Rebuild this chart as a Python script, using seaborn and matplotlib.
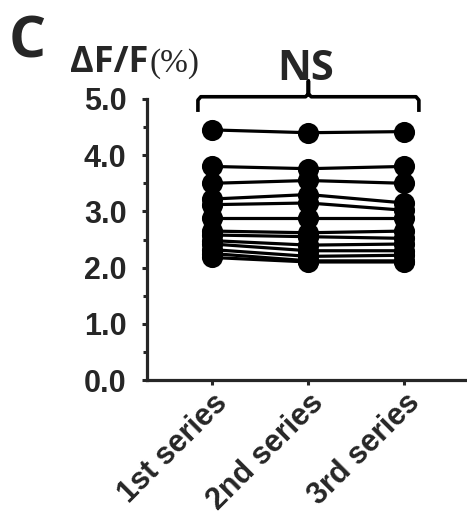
import numpy as np
import pandas as pd
import matplotlib
matplotlib.use("Agg")
import matplotlib.pyplot as plt
import seaborn as sns

categories = ["1st series", "2nd series", "3rd series"]
s01 = [4.45, 4.40, 4.42]
s02 = [3.80, 3.76, 3.80]
s03 = [3.50, 3.55, 3.50]
s04 = [3.22, 3.30, 3.15]
s05 = [3.12, 3.15, 3.02]
s06 = [2.88, 2.88, 2.88]
s07 = [2.65, 2.62, 2.65]
s08 = [2.58, 2.55, 2.52]
s09 = [2.48, 2.40, 2.42]
s10 = [2.42, 2.30, 2.30]
s11 = [2.32, 2.20, 2.22]
s12 = [2.25, 2.12, 2.12]
s13 = [2.18, 2.10, 2.10]
yticks = [0.0, 1.0, 2.0, 3.0, 4.0, 5.0]
ytick_labels = ["0.0", "1.0", "2.0", "3.0", "4.0", "5.0"]

series = [s01, s02, s03, s04, s05, s06, s07, s08, s09, s10, s11, s12, s13]
rows = []
for i, s in enumerate(series):
    for c, v in zip(categories, s):
        rows.append({"subject": i, "series": c, "value": v})
df = pd.DataFrame(rows)

sns.set_style("ticks")
plt.rcParams['font.family'] = ['Liberation Sans', 'DejaVu Sans']

fig = plt.figure(figsize=(4.67, 5.2), dpi=100)
ax = fig.add_axes([147/467, 1-380/520, (465-147)/467, (380-99)/520])

sns.lineplot(data=df, x="series", y="value", units="subject", estimator=None,
             marker="o", markersize=14, color="black", linewidth=2.3,
             markeredgecolor="black", markeredgewidth=1.2, ax=ax, legend=False, sort=False)

ax.set_xlim(-0.68, 2.63)
ax.set_ylim(0, 5.0)
ax.set_yticks(yticks)
ax.set_yticklabels(ytick_labels, fontsize=22, fontweight="bold")
ax.set_yticks([0.5, 1.5, 2.5, 3.5, 4.5], minor=True)
ax.set_xticks([0, 1, 2])
ax.set_xticklabels(categories, rotation=45, ha="right", rotation_mode="anchor",
                   fontsize=22, fontweight="bold")
ax.tick_params(axis="y", which="major", width=2.2, length=3.8, direction="out", pad=11)
ax.tick_params(axis="x", which="major", width=2.2, length=3.8, direction="out", pad=2)
ax.tick_params(axis="y", which="minor", width=2.2, length=3.0, direction="out")
ax.set_xlabel("")
ax.set_ylabel("")
for sp in ["top", "right"]:
    ax.spines[sp].set_visible(False)
for sp in ["left", "bottom"]:
    ax.spines[sp].set_linewidth(2.3)
ax.patch.set_alpha(0)

# significance bracket
bx = [-0.15, -0.15, -0.12, 0.97, 1.0, 1.0, 1.0, 1.03, 2.12, 2.15, 2.15]
by = [4.77, 4.98, 5.04, 5.04, 5.09, 5.32, 5.09, 5.04, 5.04, 4.98, 4.77]
ax.plot(bx, by, color="black", lw=2.6, clip_on=False,
        solid_joinstyle="round", solid_capstyle="butt")

fig.text(0.018, 1 - 57/520, "C", fontsize=42, fontweight="bold",
         family=["Open Sans", "DejaVu Sans"], va="baseline")
t1 = fig.text(70/467, 1 - 72/520, "ΔF/F", fontsize=26, fontweight="bold",
              family=["Open Sans", "DejaVu Sans"], va="baseline")
fig.canvas.draw()
bb = t1.get_window_extent()
fig.text(bb.x1 / fig.bbox.width + 0.002, 1 - 72/520, "(%)", fontsize=24,
         family=["Liberation Serif"], va="baseline")
fig.text(306/467, 1 - 80/520, "NS", fontsize=30, fontweight="bold",
         family=["Open Sans", "DejaVu Sans"], ha="center", va="baseline")

fig.savefig("out.png", dpi=100)
